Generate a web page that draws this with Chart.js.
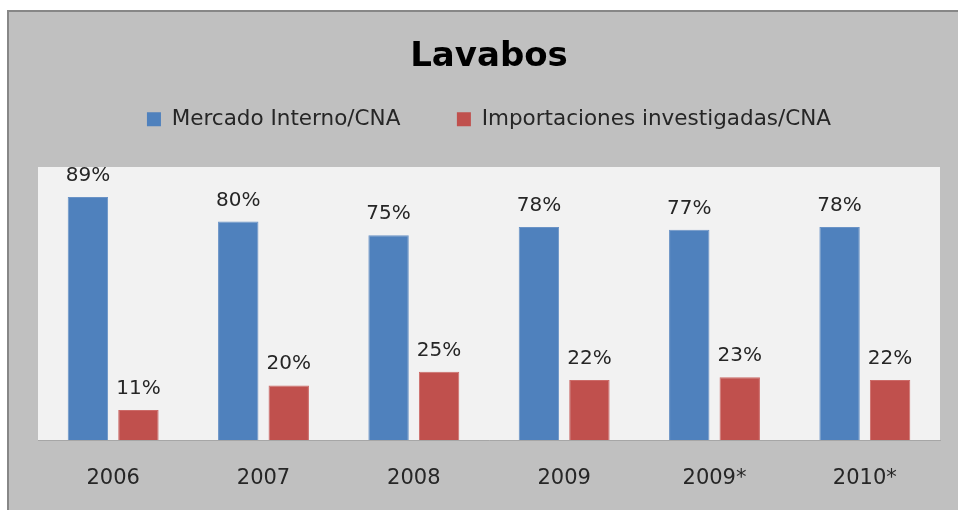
<!DOCTYPE html>
<html>
<head>
<meta charset="utf-8">
<script src="https://cdn.jsdelivr.net/npm/chart.js@4"></script>
<style>
  html, body { margin: 0; padding: 0; background: #ffffff; overflow: hidden; }
</style>
</head>
<body>
<canvas id="myChart" width="958" height="510"></canvas>
<script>
let years = ['2006', '2007', '2008', '2009', '2009*', '2010*'];
let mercado_interno = [89, 80, 75, 78, 77, 78];
let importaciones = [11, 20, 25, 22, 23, 22];
let series_names = ['Mercado Interno/CNA', 'Importaciones investigadas/CNA'];

// gray frame behind everything + light gray plot background
let backgrounds = {
  id: 'backgrounds',
  beforeDraw(chart) {
    let {ctx, chartArea, width, height} = chart;
    ctx.save();
    ctx.fillStyle = '#ffffff';
    ctx.fillRect(0, 0, width, height);
    ctx.fillStyle = '#878787';
    ctx.fillRect(7, 10, width - 7, height - 10);
    ctx.fillStyle = '#c0c0c0';
    ctx.fillRect(9, 12, width - 9, height - 12);
    ctx.fillStyle = '#f2f2f2';
    ctx.fillRect(chartArea.left, chartArea.top, chartArea.right - chartArea.left, chartArea.bottom - chartArea.top);
    ctx.restore();
  }
};

// value labels above bars
let barLabels = {
  id: 'barLabels',
  afterDatasetsDraw(chart) {
    let ctx = chart.ctx;
    ctx.save();
    ctx.font = '20px "DejaVu Sans"';
    ctx.fillStyle = '#262626';
    ctx.textAlign = 'center';
    ctx.textBaseline = 'alphabetic';
    chart.data.datasets.forEach((ds, i) => {
      chart.getDatasetMeta(i).data.forEach((bar, j) => {
        ctx.fillText(ds.data[j] + '%', bar.x, bar.y - 16);
      });
    });
    ctx.restore();
  }
};

let myChart = document.getElementById('myChart').getContext('2d');
let bar_chart = new Chart(myChart, {
  type: 'bar',
  data: {
    labels: years,
    datasets: [
      {
        label: series_names[0],
        data: mercado_interno,
        backgroundColor: '#4f81bd',
        borderColor: '#6a93c6',
        borderWidth: 1
      },
      {
        label: series_names[1],
        data: importaciones,
        backgroundColor: '#c0504d',
        borderColor: '#cc6b68',
        borderWidth: 1
      }
    ]
  },
  options: {
    responsive: false,
    animation: false,
    categoryPercentage: 0.672,
    barPercentage: 0.8,
    layout: { padding: { top: 0, left: 38, right: 18, bottom: 0 } },
    plugins: {
      title: {
        display: true,
        text: 'Lavabos',
        color: '#000000',
        font: { family: 'DejaVu Sans', size: 34, weight: 'bold', lineHeight: 1 },
        padding: { top: 40, bottom: -1.5 }
      },
      // empty spacer between legend and plot
      subtitle: {
        display: true,
        text: ' ',
        weight: 500,
        font: { size: 1, lineHeight: 1 },
        padding: { top: 0, bottom: 26 }
      },
      legend: {
        display: true,
        position: 'top',
        labels: {
          color: '#262626',
          font: { family: 'DejaVu Sans', size: 21.5 },
          boxWidth: 14,
          boxHeight: 14,
          padding: 36,
          generateLabels(chart) {
            let items = Chart.defaults.plugins.legend.labels.generateLabels(chart);
            items.forEach(it => { it.lineWidth = 0; });
            items[0].text = items[0].text + '   ';
            return items;
          }
        }
      },
      tooltip: { enabled: false }
    },
    scales: {
      x: {
        grid: { display: false, drawTicks: false },
        border: { display: true, color: '#a6a6a6', width: 1 },
        ticks: {
          color: '#262626',
          font: { family: 'DejaVu Sans', size: 21 },
          padding: 26
        },
        afterFit(scale) { scale.height = 70; }
      },
      y: {
        display: false,
        min: 0,
        max: 100
      }
    }
  },
  plugins: [backgrounds, barLabels]
});
</script>
</body>
</html>
